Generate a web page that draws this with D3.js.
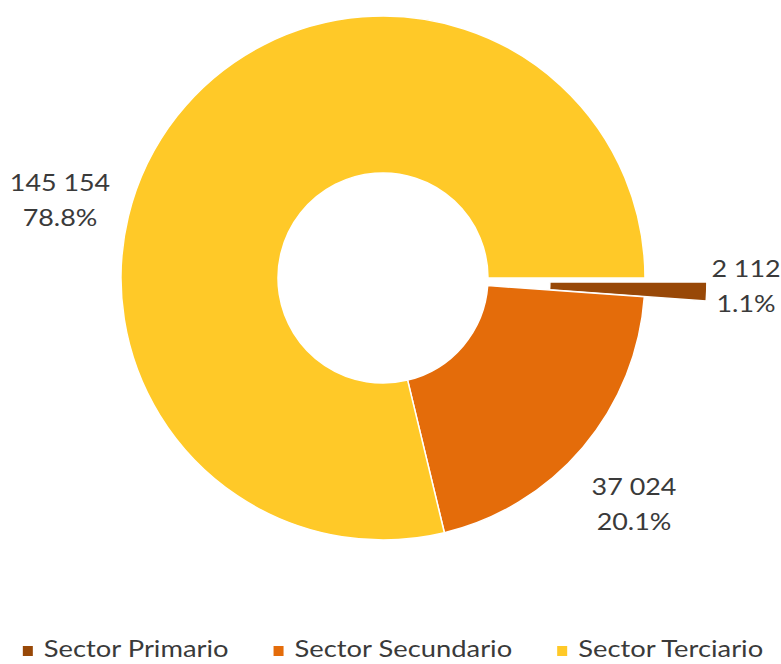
<!DOCTYPE html>
<html>
<head>
<meta charset="utf-8">
<script src="https://cdn.jsdelivr.net/npm/d3@7/dist/d3.min.js"></script>
<style>
  html, body { margin: 0; padding: 0; background: #fff; }
  svg { display: block; }
</style>
</head>
<body>
<svg id="chart" width="781" height="664"></svg>
<script>
// ---- data ----
const categories = ["Sector Primario", "Sector Secundario", "Sector Terciario"];
const values = [2112, 37024, 145154];
const colors = ["#984807", "#E46C0A", "#FFC928"];
const explode = [62, 0, 0];

// ---- layout ----
const W = 781, H = 664;
const cx = 383, cy = 278;
const outerR = 262, innerR = 105;
const fontFamily = "Lato, 'Open Sans', 'Liberation Sans', sans-serif";
const textColor = "#3a3a3a";
const fontSize = 24;
const legendFontSize = 23;
const stretch = 1.12;
const legendStretch = 1.19;
// label anchors relative to centre (first baseline), for each slice
const labelOffsets = [[363, -1], [251, 217], [-323, -87]];
const lineGap = 35;

const svg = d3.select("#chart");

const total = d3.sum(values);
const locale = d3.formatLocale({decimal: ".", thousands: " ", grouping: [3], currency: ["", ""]});
const fmtNum = locale.format(",");
const fmtPct = d3.format(".1%");

const pie = d3.pie().sort(null).value(d => d)
  .startAngle(Math.PI / 2).endAngle(Math.PI / 2 + 2 * Math.PI);
const arcs = pie(values);
const arc = d3.arc().innerRadius(innerR).outerRadius(outerR);

const g = svg.append("g").attr("transform", `translate(${cx},${cy})`);

g.selectAll("path.slice")
  .data(arcs)
  .join("path")
  .attr("class", "slice")
  .attr("d", arc)
  .attr("fill", (d, i) => colors[i])
  .attr("stroke", "#fff")
  .attr("stroke-width", 1.5)
  .attr("transform", (d, i) => {
    const a = (d.startAngle + d.endAngle) / 2 + (explode[i] ? 0.03 : 0);
    return `translate(${explode[i] * Math.sin(a)},${-explode[i] * Math.cos(a)})`;
  });

// data labels
const labels = g.selectAll("g.lbl")
  .data(arcs)
  .join("g")
  .attr("class", "lbl")
  .attr("transform", (d, i) => `translate(${labelOffsets[i][0]},${labelOffsets[i][1]}) scale(${stretch},1)`);

labels.append("text")
  .attr("text-anchor", "middle")
  .attr("font-family", fontFamily)
  .attr("font-size", fontSize)
  .attr("fill", textColor)
  .text(d => fmtNum(d.data));
labels.append("text")
  .attr("text-anchor", "middle")
  .attr("y", lineGap)
  .attr("font-family", fontFamily)
  .attr("font-size", fontSize)
  .attr("fill", textColor)
  .text(d => fmtPct(d.data / total));

// legend
const legend = svg.append("g");
const items = legend.selectAll("g.item")
  .data(categories)
  .join("g")
  .attr("class", "item");
items.append("rect")
  .attr("width", 10).attr("height", 10)
  .attr("y", -11)
  .attr("fill", (d, i) => colors[i]);
items.append("text")
  .attr("font-family", fontFamily)
  .attr("font-size", legendFontSize)
  .attr("fill", textColor)
  .attr("transform", `scale(${legendStretch},1)`)
  .attr("x", 21 / legendStretch)
  .text(d => d);

const widths = [];
items.each(function() {
  const t = d3.select(this).select("text").node();
  widths.push(21 + t.getComputedTextLength() * legendStretch);
});
const gap = 45;
const totalW = d3.sum(widths) + gap * (widths.length - 1);
const startX = 393 - totalW / 2;
items.attr("transform", (d, i) => {
  const tx = startX + d3.sum(widths.slice(0, i)) + gap * i;
  return `translate(${tx},657)`;
});
</script>
</body>
</html>
